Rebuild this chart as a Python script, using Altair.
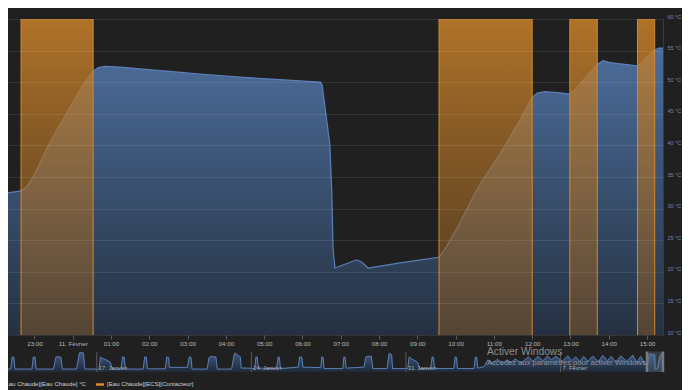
import altair as alt
import pandas as pd

# ---------------- data ----------------
# [Eau Chaude] temperature (°C), detailed day shown in the main plot
main_time = [
    "2022-02-10T22:00", "2022-02-10T22:39", "2022-02-10T22:48", "2022-02-10T22:58",
    "2022-02-10T23:24", "2022-02-10T23:51", "2022-02-11T00:16", "2022-02-11T00:32",
    "2022-02-11T00:40", "2022-02-11T00:51", "2022-02-11T01:14", "2022-02-11T01:45",
    "2022-02-11T02:32", "2022-02-11T03:19", "2022-02-11T04:22", "2022-02-11T05:25",
    "2022-02-11T05:56", "2022-02-11T06:28", "2022-02-11T06:31", "2022-02-11T06:43",
    "2022-02-11T06:46", "2022-02-11T06:48", "2022-02-11T06:51", "2022-02-11T07:25",
    "2022-02-11T07:33", "2022-02-11T07:43", "2022-02-11T08:33", "2022-02-11T09:34",
    "2022-02-11T09:46", "2022-02-11T10:07", "2022-02-11T10:23", "2022-02-11T10:38",
    "2022-02-11T11:10", "2022-02-11T11:41", "2022-02-11T12:00", "2022-02-11T12:08",
    "2022-02-11T12:20", "2022-02-11T12:44", "2022-02-11T12:58", "2022-02-11T13:07",
    "2022-02-11T13:23", "2022-02-11T13:42", "2022-02-11T13:51", "2022-02-11T14:02",
    "2022-02-11T14:44", "2022-02-11T14:50", "2022-02-11T15:01", "2022-02-11T15:12",
    "2022-02-11T15:19", "2022-02-11T15:25",
]
main_temp = [
    32.2, 32.8, 33.5, 35.0,
    40.4, 45.2, 49.6, 51.7,
    52.3, 52.5, 52.4, 52.1,
    51.7, 51.3, 50.8, 50.4,
    50.2, 50.0, 49.5, 40.1,
    32.5, 23.5, 20.6, 21.9,
    21.5, 20.6, 21.4, 22.3,
    24.0, 27.8, 31.0, 33.8,
    38.7, 44.0, 47.6, 48.3,
    48.5, 48.3, 48.1, 48.8,
    50.7, 52.8, 53.4, 53.1,
    52.6, 52.9, 54.1, 55.1,
    55.4, 55.4,
]

# Older history, only visible in the navigator strip
nav_time = [
    "2022-01-12T23:00",
    "2022-01-13T02:30", "2022-01-13T04:00", "2022-01-13T06:00", "2022-01-13T07:00",
    "2022-01-14T01:30", "2022-01-14T03:00", "2022-01-14T05:00", "2022-01-14T06:00",
    "2022-01-15T01:00", "2022-01-15T03:30", "2022-01-15T05:00", "2022-01-15T09:00", "2022-01-15T10:30",
    "2022-01-16T02:00", "2022-01-16T05:00", "2022-01-16T06:00", "2022-01-16T09:30", "2022-01-16T11:00",
    "2022-01-17T02:30", "2022-01-17T04:00", "2022-01-17T06:00", "2022-01-17T10:00", "2022-01-17T14:30", "2022-01-17T17:00",
    "2022-01-18T02:30", "2022-01-18T04:00", "2022-01-18T06:00", "2022-01-18T07:00",
    "2022-01-19T02:30", "2022-01-19T04:00", "2022-01-19T06:00", "2022-01-19T07:00",
    "2022-01-20T02:30", "2022-01-20T04:00", "2022-01-20T06:00", "2022-01-20T07:00",
    "2022-01-21T02:30", "2022-01-21T04:30", "2022-01-21T06:30", "2022-01-21T07:30",
    "2022-01-22T00:00", "2022-01-22T02:00", "2022-01-22T04:00", "2022-01-22T09:30", "2022-01-22T11:00",
    "2022-01-23T02:30", "2022-01-23T05:30", "2022-01-23T06:30", "2022-01-23T09:00", "2022-01-23T12:00",
    "2022-01-23T13:00", "2022-01-23T20:00",
    "2022-01-24T03:30", "2022-01-24T05:00", "2022-01-24T06:30", "2022-01-24T07:30",
    "2022-01-25T03:30", "2022-01-25T05:00", "2022-01-25T06:30", "2022-01-25T07:30",
    "2022-01-26T03:00", "2022-01-26T04:30", "2022-01-26T07:00", "2022-01-26T08:00",
    "2022-01-27T03:30", "2022-01-27T04:30", "2022-01-27T06:00", "2022-01-27T07:00",
    "2022-01-28T03:30", "2022-01-28T04:30", "2022-01-28T06:00", "2022-01-28T07:00",
    "2022-01-29T02:30", "2022-01-29T04:30", "2022-01-29T07:00", "2022-01-29T10:30", "2022-01-29T12:00",
    "2022-01-30T03:30", "2022-01-30T05:30", "2022-01-30T06:30", "2022-01-30T08:30", "2022-01-30T09:30",
    "2022-01-31T02:00", "2022-01-31T03:30", "2022-01-31T06:00", "2022-01-31T10:00", "2022-01-31T13:00", "2022-01-31T14:30",
    "2022-02-01T03:00", "2022-02-01T04:30", "2022-02-01T06:00", "2022-02-01T07:00",
    "2022-02-02T04:00", "2022-02-02T05:30", "2022-02-02T07:00", "2022-02-02T08:00",
    "2022-02-03T02:00", "2022-02-03T03:30", "2022-02-03T05:00", "2022-02-03T06:00",
    "2022-02-03T13:00", "2022-02-03T17:00", "2022-02-03T22:00",
    "2022-02-04T03:30", "2022-02-04T09:00", "2022-02-04T14:00", "2022-02-04T18:00", "2022-02-04T23:00",
    "2022-02-05T05:00", "2022-02-05T13:00", "2022-02-05T18:00", "2022-02-05T23:30",
    "2022-02-06T05:00", "2022-02-06T10:00", "2022-02-06T14:00", "2022-02-06T19:00",
    "2022-02-07T02:00", "2022-02-07T08:00", "2022-02-07T12:00", "2022-02-07T16:30", "2022-02-07T21:00",
    "2022-02-08T01:00", "2022-02-08T06:00", "2022-02-08T11:00", "2022-02-08T17:00", "2022-02-08T22:00",
    "2022-02-09T03:00", "2022-02-09T07:00", "2022-02-09T12:00", "2022-02-09T17:30",
    "2022-02-10T00:00", "2022-02-10T06:30", "2022-02-10T11:00", "2022-02-10T15:00", "2022-02-10T20:00",
]
nav_temp = [
    21,
    21, 46, 45, 21,
    21, 46, 45, 21,
    21, 45.5, 46.5, 45.5, 21,
    21, 54, 55, 54, 21,
    21, 46, 43, 40, 35.5, 21,
    21, 46, 45, 21,
    21, 46, 45, 21.5,
    21.5, 46, 45, 24.5,
    24.5, 46, 45, 21,
    21, 45, 46.5, 46, 21,
    21, 52, 54, 50, 46,
    23, 23,
    22, 46, 45, 23,
    22, 46, 45, 22,
    25, 46, 45, 25,
    24, 46, 45, 22,
    22, 46, 45, 23,
    25, 46, 47.5, 47, 22,
    22, 52, 54, 50, 22,
    22, 46, 42, 38, 34, 22,
    22, 46, 45, 22,
    22, 46, 45, 22,
    22, 46, 45, 23,
    26, 40, 33,
    41, 32, 40, 34, 42,
    33, 46, 37, 47,
    38, 48, 40, 47,
    37, 48, 38, 46, 36,
    47, 37, 48, 36, 49,
    38, 47, 35, 48,
    37, 50, 34, 47, 32,
]

# [Eau Chaude][ECS][Contacteur] : periods where the contactor is ON
on_start = ["2022-02-10T22:39", "2022-02-11T09:34", "2022-02-11T12:59", "2022-02-11T14:45"]
on_end = ["2022-02-11T00:32", "2022-02-11T12:00", "2022-02-11T13:42", "2022-02-11T15:12"]

y_ticks = [10, 15, 20, 25, 30, 35, 40, 45, 50, 55, 60]
hour_ticks = ["2022-02-10T23:00", "2022-02-11T00:00", "2022-02-11T01:00", "2022-02-11T02:00",
              "2022-02-11T03:00", "2022-02-11T04:00", "2022-02-11T05:00", "2022-02-11T06:00",
              "2022-02-11T07:00", "2022-02-11T08:00", "2022-02-11T09:00", "2022-02-11T10:00",
              "2022-02-11T11:00", "2022-02-11T12:00", "2022-02-11T13:00", "2022-02-11T14:00",
              "2022-02-11T15:00"]
main_range = ["2022-02-10T22:18:36", "2022-02-11T15:25"]
nav_range = ["2022-01-12T23:30", "2022-02-11T15:25"]
week_dates = ["2022-01-17T00:00", "2022-01-24T00:00", "2022-01-31T00:00", "2022-02-07T00:00"]
week_labels = ["17. Janvier", "24. Janvier", "31. Janvier", "7. Février"]
legend_labels = ["[Eau Chaude][Eau Chaude][Eau Chaude] °C", "[Eau Chaude][ECS][Contacteur]"]
window_range = ["2022-02-10T22:00", "2022-02-11T15:25"]
watermark = ["Activer Windows", "Accédez aux paramètres pour activer Windows."]


def ms(s):
    return int(pd.Timestamp(s).value // 10**6)


def ms_list(lst):
    return [ms(s) for s in lst]


# ---------------- tables ----------------
df_main = pd.DataFrame({"t": ms_list(main_time), "temp": main_temp})
df_hist = pd.DataFrame({"t": ms_list(nav_time + main_time), "temp": nav_temp + main_temp})
df_bands = pd.DataFrame({"start": ms_list(on_start), "end": ms_list(on_end)})
df_edges = pd.DataFrame({"t": ms_list(on_start + on_end)})
df_weeks = pd.DataFrame({"d": ms_list(week_dates), "label": week_labels})
df_window = pd.DataFrame({"a": [ms(window_range[0])], "b": [ms(window_range[1])]})
df_handles = pd.DataFrame({"d": ms_list(window_range)})
df_leg1 = pd.DataFrame({"label": legend_labels[:1]})
df_leg2 = pd.DataFrame({"label": legend_labels[1:]})
df_wm1 = pd.DataFrame({"txt": watermark[:1]})
df_wm2 = pd.DataFrame({"txt": watermark[1:]})

FONT = "Liberation Sans"
MONTHS = "['Janvier','Février','Mars','Avril','Mai','Juin','Juillet','Août','Septembre','Octobre','Novembre','Décembre']"
BLUE_LINE = "#5b80b8"
ORANGE = "#d5872b"

W, H = 655, 316

# main scales
x_scale = alt.Scale(type="utc", domain=ms_list(main_range))
y_scale = alt.Scale(domain=[10, 60], nice=False, zero=False)
# navigator scales: 15..56 °C drawn in the strip 17..37 px below the plot
nav_x_scale = alt.Scale(type="utc", domain=ms_list(nav_range))
nav_y_scale = alt.Scale(domain=[90.85, 738.65], nice=False, zero=False)
# overlay (pixel) scales for legend and watermark
px_x = alt.Scale(domain=[0, W], nice=False, zero=False)
px_y = alt.Scale(domain=[0, H], nice=False, zero=False, reverse=True)

x_axis = alt.Axis(
    values=ms_list(hour_ticks),
    labelExpr="utchours(datum.value) == 0 ? utcdate(datum.value) + '. ' + " + MONTHS
              + "[utcmonth(datum.value)] : utcFormat(datum.value, '%H:%M')",
    labelColor="#b8b8b8", labelFontSize=6.2, labelFont=FONT,
    tickColor="#5a5a5a", tickSize=4, domain=False, grid=False,
    labelPadding=1, labelOverlap=False, title=None,
)
y_axis = alt.Axis(
    orient="right", values=y_ticks, labelExpr="datum.value + ' °C'",
    labelColor="#6c88b0", labelFontSize=5.5, labelFont=FONT,
    grid=True, gridColor="#ffffff", gridOpacity=0.09, ticks=False,
    domain=True, domainColor="#3a3a3a", labelPadding=4, labelOffset=-3,
    labelOverlap=False, zindex=1, title=None,
)

blue_grad = alt.Gradient(
    gradient="linear", x1=0, x2=0, y1=0, y2=1,
    stops=[alt.GradientStop(color="#4c6d9b", offset=0),
           alt.GradientStop(color="#253141", offset=1)],
)
orange_grad = alt.Gradient(
    gradient="linear", x1=0, x2=0, y1=0, y2=1,
    stops=[alt.GradientStop(color="rgba(201,129,41,0.85)", offset=0),
           alt.GradientStop(color="rgba(140,92,36,0.45)", offset=1)],
)
nav_grad = alt.Gradient(
    gradient="linear", x1=0, x2=0, y1=0, y2=1,
    stops=[alt.GradientStop(color="#3e5880", offset=0),
           alt.GradientStop(color="#1f2937", offset=1)],
)

# ---------------- main plot ----------------
area = alt.Chart(df_main).mark_area(clip=True, fill=blue_grad).encode(
    x=alt.X("t:T", scale=x_scale, axis=x_axis),
    y=alt.Y("temp:Q", scale=y_scale, axis=y_axis),
    y2=alt.Y2Datum(10))
line = alt.Chart(df_main).mark_line(clip=True, color=BLUE_LINE, strokeWidth=1.2).encode(
    x=alt.X("t:T", scale=x_scale, axis=None),
    y=alt.Y("temp:Q", scale=y_scale, axis=None))
bands = alt.Chart(df_bands).mark_rect(clip=True, fill=orange_grad).encode(
    x=alt.X("start:T", scale=x_scale, axis=None), x2="end:T",
    y=alt.YDatum(60, scale=y_scale, axis=None), y2=alt.Y2Datum(10))
edges = alt.Chart(df_edges).mark_rule(clip=True, color=ORANGE, strokeWidth=1).encode(
    x=alt.X("t:T", scale=x_scale, axis=None),
    y=alt.YDatum(60, scale=y_scale, axis=None), y2=alt.Y2Datum(10))

# ---------------- navigator ----------------
nav_area = alt.Chart(df_hist).mark_area(fill=nav_grad).encode(
    x=alt.X("t:T", scale=nav_x_scale, axis=None),
    y=alt.Y("temp:Q", scale=nav_y_scale, axis=None),
    y2=alt.Y2Datum(15))
nav_line = alt.Chart(df_hist).mark_line(color="#5a7fb5", strokeWidth=1).encode(
    x=alt.X("t:T", scale=nav_x_scale, axis=None),
    y=alt.Y("temp:Q", scale=nav_y_scale, axis=None))
nav_sep = alt.Chart(df_weeks).mark_rule(color="#5a5a5a", strokeWidth=1).encode(
    x=alt.X("d:T", scale=nav_x_scale, axis=None),
    y=alt.YDatum(56, scale=nav_y_scale, axis=None), y2=alt.Y2Datum(15))
nav_lbl = alt.Chart(df_weeks).mark_text(
    align="left", baseline="middle", dx=2, dy=-4, fontSize=5.8, font=FONT, color="#b0b0b0").encode(
    x=alt.X("d:T", scale=nav_x_scale, axis=None),
    y=alt.YDatum(15, scale=nav_y_scale, axis=None), text="label:N")
nav_win = alt.Chart(df_window).mark_rect(fill="#8aa0c0", opacity=0.22).encode(
    x=alt.X("a:T", scale=nav_x_scale, axis=None), x2="b:T",
    y=alt.YDatum(57, scale=nav_y_scale, axis=None), y2=alt.Y2Datum(15))
nav_handles = alt.Chart(df_handles).mark_rule(color="#7a7a7a", strokeWidth=2.5).encode(
    x=alt.X("d:T", scale=nav_x_scale, axis=None),
    y=alt.YDatum(57, scale=nav_y_scale, axis=None), y2=alt.Y2Datum(15))

# ---------------- legend & overlay text (pixel scales) ----------------
leg1 = alt.Chart(df_leg1).mark_text(
    align="right", baseline="middle", fontSize=6.1, font=FONT, color="#d0d0d0").encode(
    x=alt.XDatum(78, scale=px_x, axis=None), y=alt.YDatum(365, scale=px_y, axis=None),
    text="label:N")
leg_sym = alt.Chart(df_leg2).mark_rule(color="#e08a25", strokeWidth=2.5).encode(
    x=alt.XDatum(88, scale=px_x, axis=None), x2=alt.X2Datum(96),
    y=alt.YDatum(365.5, scale=px_y, axis=None))
leg2 = alt.Chart(df_leg2).mark_text(
    align="left", baseline="middle", fontSize=6.1, font=FONT, color="#d0d0d0").encode(
    x=alt.XDatum(99, scale=px_x, axis=None), y=alt.YDatum(365, scale=px_y, axis=None),
    text="label:N")
wm1 = alt.Chart(df_wm1).mark_text(
    align="left", baseline="middle", fontSize=10.2, font=FONT, color="#a8a8a8", opacity=0.8).encode(
    x=alt.XDatum(479, scale=px_x, axis=None), y=alt.YDatum(333, scale=px_y, axis=None),
    text="txt:N")
wm2 = alt.Chart(df_wm2).mark_text(
    align="left", baseline="middle", fontSize=7.6, font=FONT, color="#a8a8a8", opacity=0.8).encode(
    x=alt.XDatum(479, scale=px_x, axis=None), y=alt.YDatum(344, scale=px_y, axis=None),
    text="txt:N")

chart = alt.layer(
    area, line, bands, edges,
    nav_area, nav_line, nav_sep, nav_lbl, nav_win, nav_handles,
    leg1, leg_sym, leg2, wm1, wm2,
).resolve_scale(
    x="independent", y="independent"
).properties(
    width=W, height=H,
    padding={"left": 0, "top": 11, "right": 19, "bottom": 55},
    autosize=alt.AutoSizeParams(type="none"),
).configure(background="#202020", font=FONT).configure_view(stroke=None)

chart.save("out.html", embed_options={"renderer": "svg", "actions": False})
